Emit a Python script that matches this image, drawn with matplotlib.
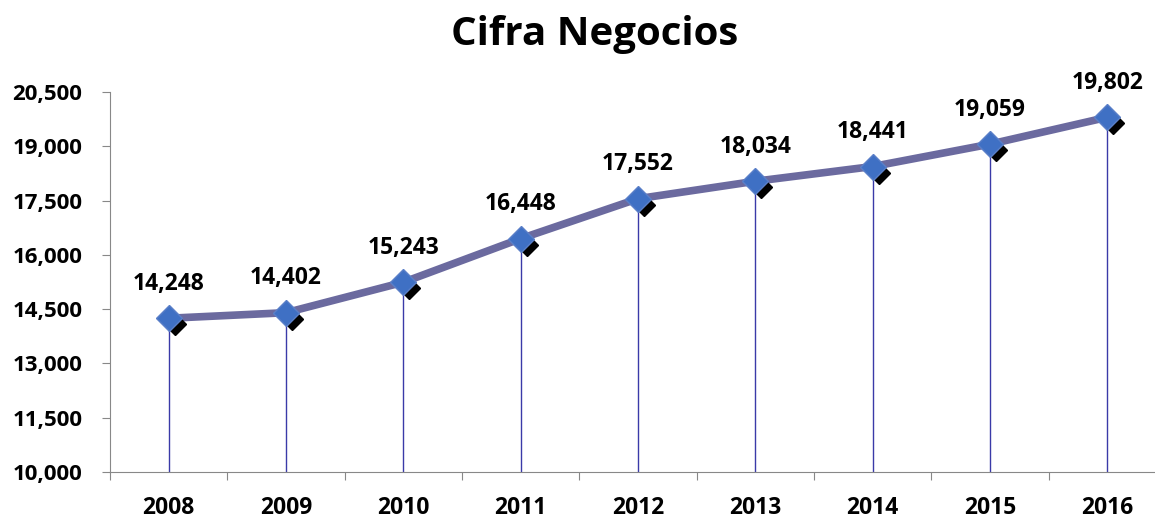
import matplotlib

matplotlib.use("Agg")
import matplotlib.pyplot as plt  # noqa: E402
import matplotlib.transforms as mtransforms  # noqa: E402
from matplotlib.ticker import FuncFormatter  # noqa: E402

plt.rcParams["font.family"] = ["Open Sans", "DejaVu Sans"]
plt.rcParams["font.weight"] = "bold"

years = ["2008", "2009", "2010", "2011", "2012", "2013", "2014", "2015", "2016"]
values = [14248, 14402, 15243, 16448, 17552, 18034, 18441, 19059, 19802]
y_ticks = [10000, 11500, 13000, 14500, 16000, 17500, 19000, 20500]

fig = plt.figure(figsize=(11.55, 5.19), dpi=100)
ax = fig.add_axes([110 / 1155, 1 - 472 / 519, 1056 / 1155, 380 / 519])

x = list(range(len(years)))
ax.vlines(x, 10000, values, color="#3a3aa8", lw=1, zorder=2)
ax.plot(x, values, color="#6b6a9f", lw=5.5, solid_capstyle="round", zorder=3)

shadow = mtransforms.offset_copy(ax.transData, fig=fig, x=6, y=-6, units="dots")
ax.plot(x, values, ls="none", marker="D", ms=11, color="black",
        transform=shadow, zorder=4)
ax.plot(x, values, ls="none", marker="D", ms=13, color="#3f70c4",
        markeredgecolor="#5a7fc8", zorder=5)

for xi, v in zip(x, values):
    ax.annotate(f"{v:,}", (xi, v), xytext=(0, 16), textcoords="offset points",
                ha="center", va="bottom", fontsize=16.5, fontweight="bold")

ax.set_xlim(-0.5, len(years) - 0.5)
ax.set_ylim(10000, 20500)
ax.set_yticks(y_ticks)
ax.yaxis.set_major_formatter(FuncFormatter(lambda v, p: f"{int(v):,}"))
ax.set_xticks([i + 0.5 for i in range(-1, len(years))], minor=False)
ax.set_xticklabels([])
ax.set_xticks(x, minor=True)
ax.set_xticklabels(years, minor=True)
ax.tick_params(axis="x", which="major", length=6, color="#888888", direction="out")
ax.tick_params(axis="x", which="minor", length=0, pad=17, labelsize=16.5)
ax.tick_params(axis="y", length=6, color="#888888", pad=14, labelsize=16)
for lab in ax.get_xticklabels(minor=True) + ax.get_yticklabels():
    lab.set_fontweight("bold")

for s in ("top", "right"):
    ax.spines[s].set_visible(False)
for s in ("left", "bottom"):
    ax.spines[s].set_color("#888888")

fig.text(595 / 1155, 1 - 34 / 519, "Cifra Negocios", ha="center", va="center",
         fontsize=29, fontweight="bold")

fig.savefig("out.png", dpi=100)
